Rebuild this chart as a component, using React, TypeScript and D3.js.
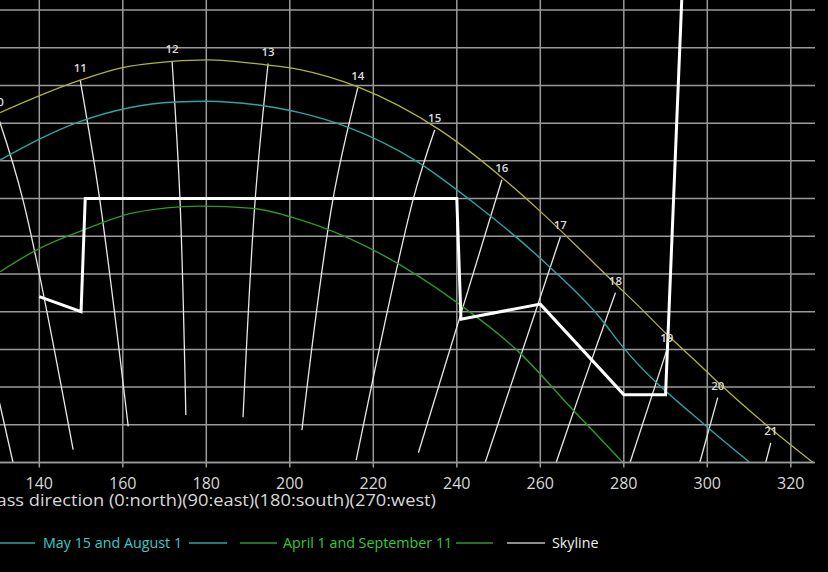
import React from "react";
import * as d3 from "d3";

const W = 828;
const H = 572;

const azTicks = [120, 140, 160, 180, 200, 220, 240, 260, 280, 300, 320];
const altTicks = [0, 5, 10, 15, 20, 25, 30, 35, 40, 45, 50, 55, 60, 65];

// [azimuth, altitude]
const june21: [number, number][] = [
  [130.6, 46.4], [149.8, 50.7], [159.4, 52.3], [171.8, 53.2], [180.2, 53.4],
  [194.8, 52.7], [202.4, 52.1], [216.3, 49.8], [235.9, 44.1], [250.8, 37.8],
  [260, 33.3], [270, 28.0], [277.4, 24.0], [283.8, 20.6], [290.3, 17.0],
  [297.5, 13.3], [303, 10.4], [314.3, 4.9], [325.3, 0],
];
const may15aug1: [number, number][] = [
  [130.6, 40.1], [149.7, 45.2], [172.5, 47.8], [180.2, 47.9], [193.6, 47.3],
  [202.4, 46.4], [213.7, 44.5], [230.5, 39.9], [243.2, 34.8], [262.3, 25.9],
  [274.3, 19.2], [279.8, 15.3], [300.2, 4.6], [310.2, 0],
];
const apr1sep11: [number, number][] = [
  [130.6, 25.3], [139.4, 28.2], [150.5, 30.8], [162.5, 33.1], [178.5, 34.0],
  [191.2, 33.7], [202.4, 32.2], [218.5, 28.6], [240.1, 21.2], [254.4, 14.9],
  [267.8, 7.0], [279.8, 0],
];
const skyline: [number, number][] = [
  [140, 22], [150, 20], [151, 35], [240, 35], [241, 19], [260, 21],
  [280, 9], [290, 9], [296, 90],
];

const hourLabels = ["9", "10", "11", "12", "13", "14", "15", "16", "17", "18", "19", "20", "21"];
const hourLines: [number, number][][] = [
  [[118, 38], [130.6, 7.6], [133.7, 0]],
  [[129.9, 46.2], [136.1, 34.8], [148.1, 1.7]],
  [[149.8, 50.7], [154.5, 34.8], [161.3, 4.8]],
  [[171.8, 53.2], [173.7, 34.8], [175.1, 6.3]],
  [[194.8, 52.9], [191.7, 34.8], [188.8, 6.0]],
  [[216.3, 49.7], [210.3, 34.8], [202.9, 4.3]],
  [[234.7, 44.1], [229.5, 34.8], [215.9, 0.3]],
  [[250.8, 37.5], [230.8, 1.3]],
  [[264.8, 29.9], [246.8, 0]],
  [[278.0, 22.5], [269.5, 9.2], [263.8, 0]],
  [[290.3, 14.9], [281.5, 0]],
  [[302.5, 8.6], [298.2, 0]],
  [[315.2, 2.6], [314.0, 0]],
];

const legendLabels = ["May 15 and August 1", "April 1 and September 11", "Skyline"];
const axisTitle = "Compass direction (0:north)(90:east)(180:south)(270:west)";

const COL_JUNE = "#b3b33a";
const COL_MAY = "#2aa6a6";
const COL_APR = "#2c9a2c";
const COL_MAY_TXT = "#3cc9c9";
const COL_APR_TXT = "#36c936";
const GRID = "#9a9a9a";
const FONT = "'Open Sans', 'Noto Sans', sans-serif";

export default function App() {
  const x = d3.scaleLinear().domain([140, 320]).range([39.3, 790.8]);
  const y = d3.scaleLinear().domain([0, 60]).range([462.5, 10]);
  const plotRight = 815;
  const plotBottom = y(0);

  const line = d3
    .line<[number, number]>()
    .x((d) => x(d[0]))
    .y((d) => y(d[1]))
    .curve(d3.curveMonotoneX);
  const hourLine = d3
    .line<[number, number]>()
    .x((d) => x(d[0]))
    .y((d) => y(d[1]))
    .curve(d3.curveCatmullRom.alpha(0.5));
  const poly = d3
    .line<[number, number]>()
    .x((d) => x(d[0]))
    .y((d) => y(d[1]));

  const legendY = 543;

  return (
    <svg
      width={W}
      height={H}
      style={{ position: "absolute", left: 0, top: 0, background: "#000" }}
    >
      <rect x={0} y={0} width={W} height={H} fill="#000" />
      <defs>
        <clipPath id="plot">
          <rect x={-200} y={-200} width={plotRight + 200} height={plotBottom + 200} />
        </clipPath>
      </defs>
      <g>
        {azTicks.map((t) => (
          <line key={"v" + t} x1={x(t)} x2={x(t)} y1={-10} y2={plotBottom} stroke={GRID} strokeWidth={1.5} />
        ))}
        {altTicks.map((t) => (
          <line key={"h" + t} x1={-10} x2={plotRight} y1={y(t)} y2={y(t)} stroke={GRID} strokeWidth={1.5} />
        ))}
      </g>
      <g clipPath="url(#plot)">
        {hourLines.map((pts, i) => (
          <path key={"hl" + i} d={hourLine(pts) || ""} fill="none" stroke="#e8e8e8" strokeWidth={1.3} />
        ))}
        <path d={line(june21) || ""} fill="none" stroke={COL_JUNE} strokeWidth={1.3} />
        <path d={line(may15aug1) || ""} fill="none" stroke={COL_MAY} strokeWidth={1.4} />
        <path d={line(apr1sep11) || ""} fill="none" stroke={COL_APR} strokeWidth={1.4} />
        <path d={poly(skyline) || ""} fill="none" stroke="#ffffff" strokeWidth={3} strokeLinejoin="miter" />
      </g>
      {hourLines.map((pts, i) => (
        <text
          key={"lab" + i}
          x={x(pts[0][0])}
          y={y(pts[0][1]) - 8}
          fill="#dcdcdc"
          fontFamily={FONT}
          fontSize={11.5}
          fontWeight={600}
          textAnchor="middle"
        >
          {hourLabels[i]}
        </text>
      ))}
      <line x1={-10} x2={plotRight} y1={plotBottom} y2={plotBottom} stroke={GRID} strokeWidth={1.5} />
      {azTicks.map((t) => (
        <g key={"t" + t}>
          <line x1={x(t)} x2={x(t)} y1={plotBottom} y2={plotBottom + 5} stroke={GRID} strokeWidth={1.5} />
          <text x={x(t)} y={plotBottom + 26} fill="#d8d8d8" fontFamily={FONT} fontSize={16} textAnchor="middle">
            {t}
          </text>
        </g>
      ))}
      <text
        x={-54}
        y={506}
        fill="#d8d8d8"
        fontFamily={FONT}
        fontSize={17}
        textLength={490}
        lengthAdjust="spacingAndGlyphs"
      >
        {axisTitle}
      </text>
      <g fontFamily={FONT} fontSize={14.3}>
        <line x1={-2} x2={35} y1={legendY} y2={legendY} stroke={COL_MAY} strokeWidth={1.5} />
        <text x={43} y={legendY + 5} fill={COL_MAY_TXT}>{legendLabels[0]}</text>
        <line x1={189} x2={227} y1={legendY} y2={legendY} stroke={COL_MAY} strokeWidth={1.5} />
        <line x1={240} x2={277} y1={legendY} y2={legendY} stroke={COL_APR} strokeWidth={1.5} />
        <text x={283} y={legendY + 5} fill={COL_APR_TXT}>{legendLabels[1]}</text>
        <line x1={456} x2={493} y1={legendY} y2={legendY} stroke={COL_APR} strokeWidth={1.5} />
        <line x1={507} x2={545} y1={legendY} y2={legendY} stroke="#bdbdbd" strokeWidth={1.5} />
        <text x={552} y={legendY + 5} fill="#f0f0f0">{legendLabels[2]}</text>
      </g>
    </svg>
  );
}
